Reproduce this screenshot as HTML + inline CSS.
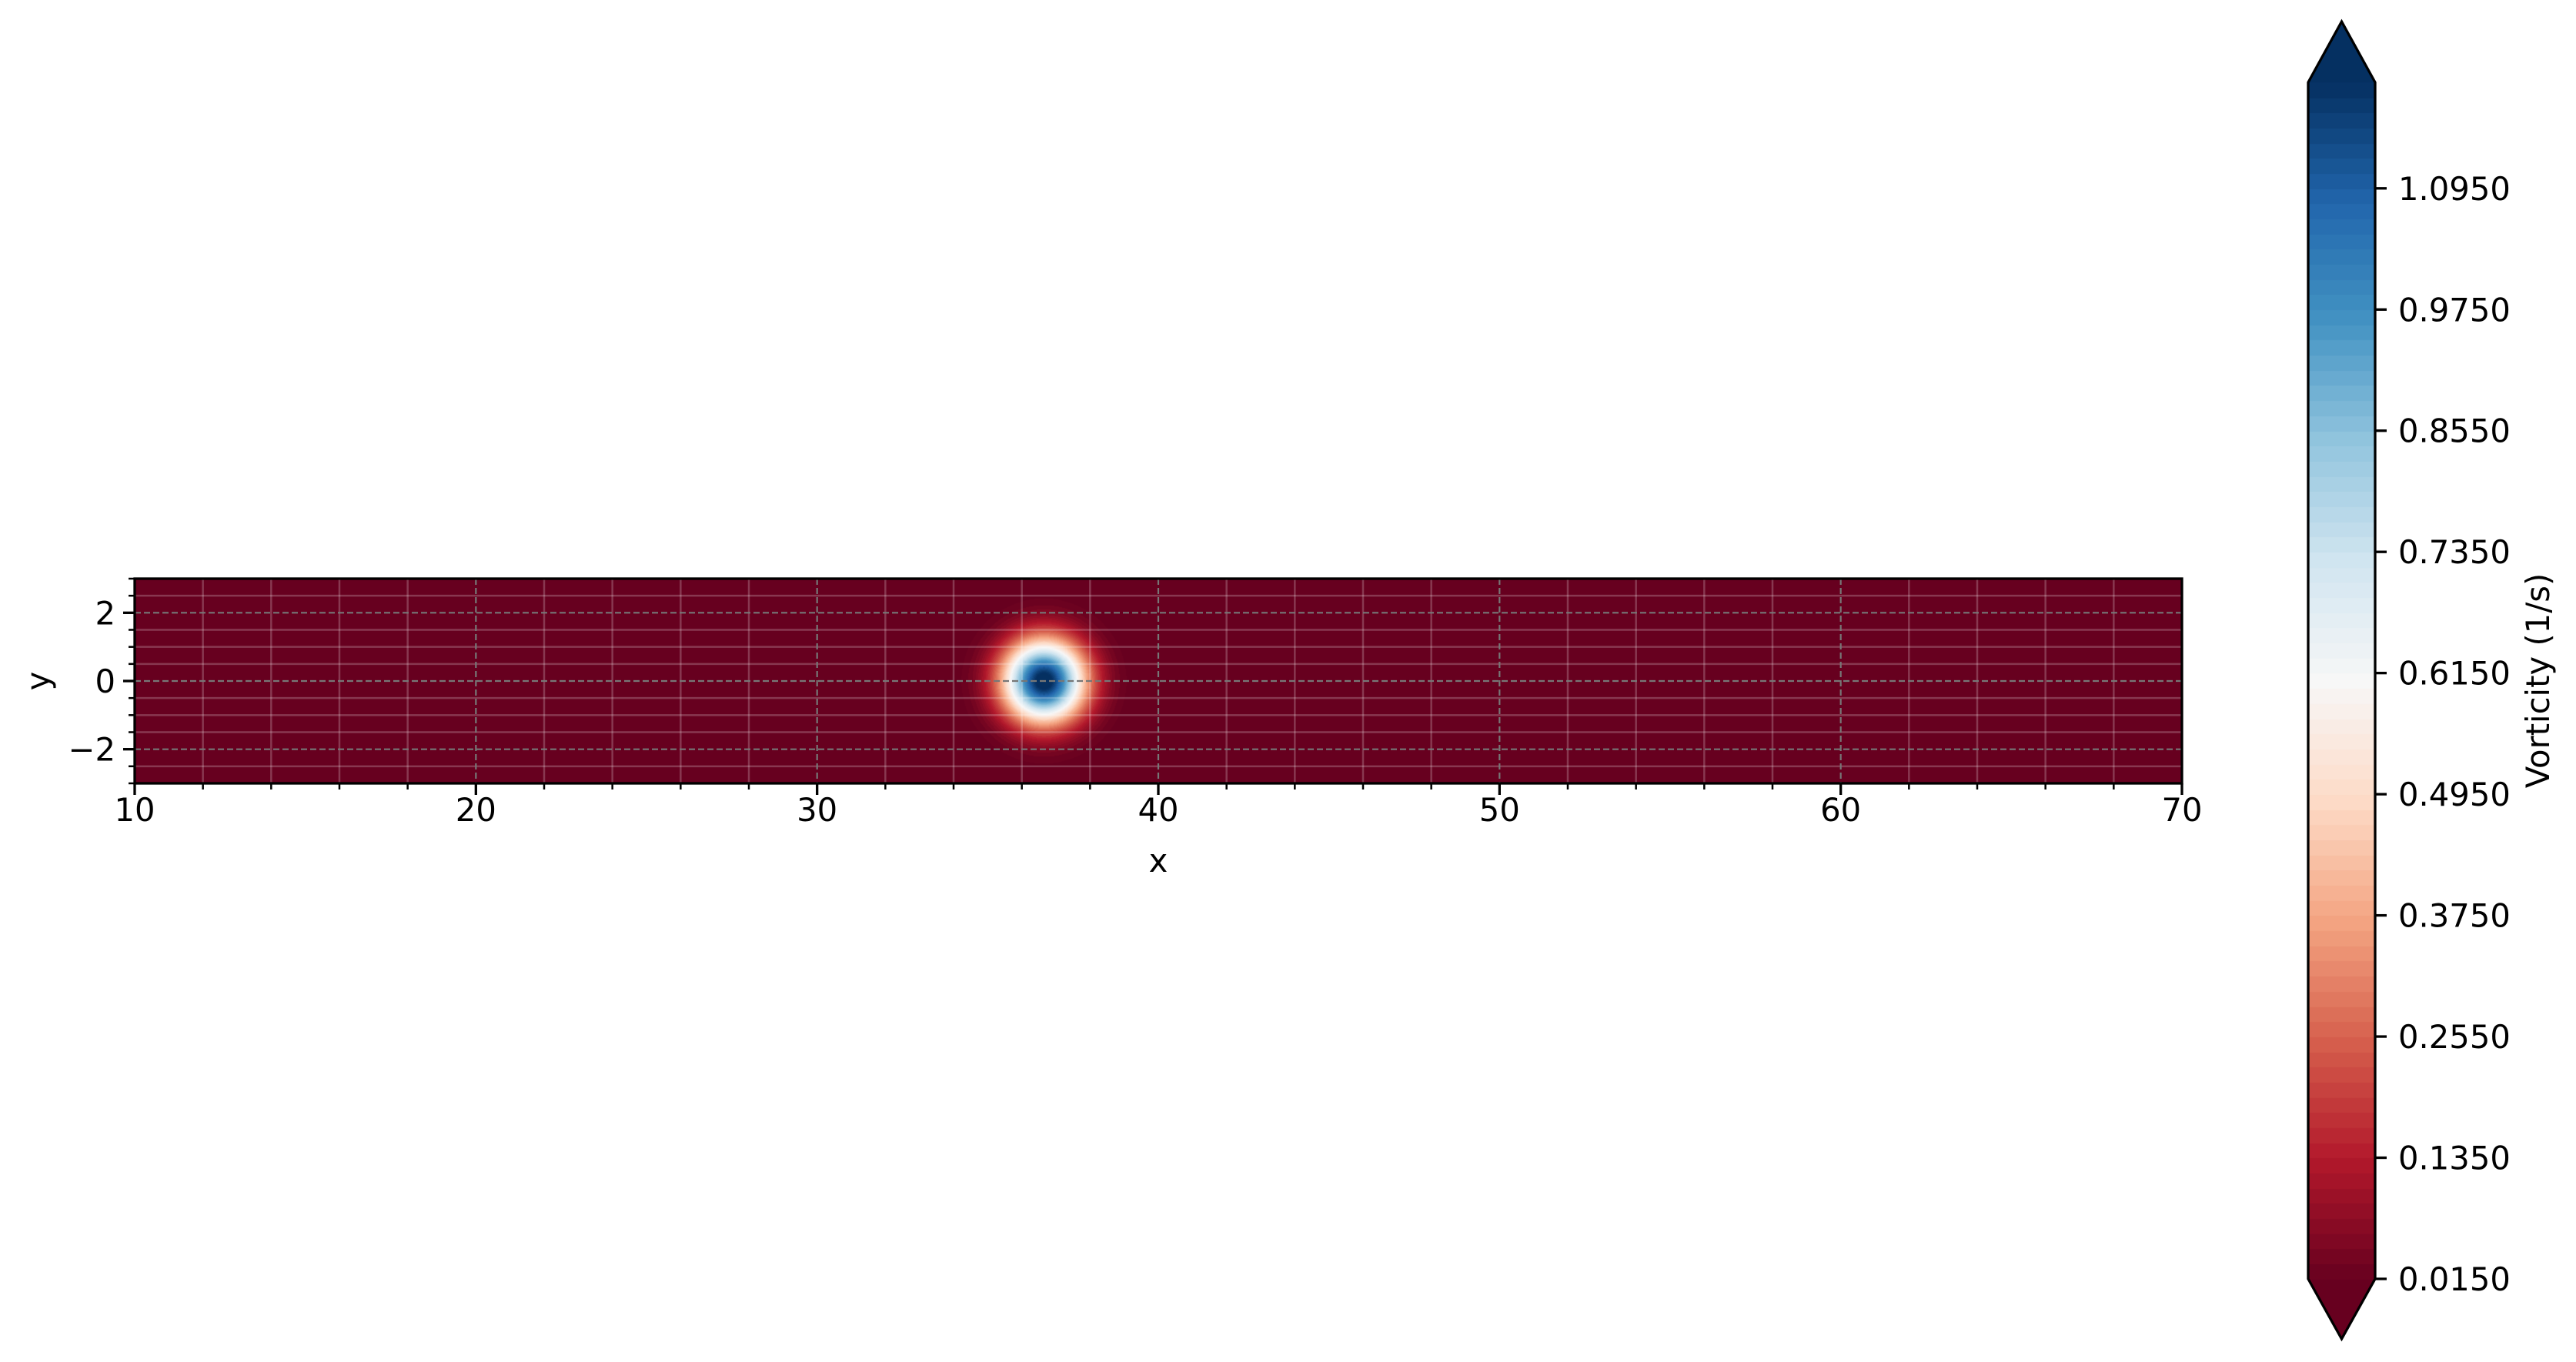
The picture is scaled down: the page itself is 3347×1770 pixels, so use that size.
<!DOCTYPE html>
<html><head><meta charset="utf-8">
<style>
html,body{margin:0;padding:0;background:#fff;}
#wrap{position:relative;width:3347px;height:1770px;overflow:hidden;}
canvas{position:absolute;}
svg{position:absolute;left:0;top:0;}
text{font-family:"DejaVu Sans","Liberation Sans",sans-serif;fill:#000;}
</style></head>
<body>
<div id="wrap">
<canvas id="heat"></canvas>
<canvas id="cbar"></canvas>
<svg id="ov" width="3347" height="1770"></svg>
</div>
<script>
// ---- data ----
const xTicks = [10,20,30,40,50,60,70];
const yTicks = [-2,0,2];
const cbarTicks = [0.0150,0.1350,0.2550,0.3750,0.4950,0.6150,0.7350,0.8550,0.9750,1.0950];
const vortexCenter = [36.65, 0.0];
const vortexAmplitude = [1.25];
const vortexWidth = [1.15];
const levelRange = [0.015, 1.2, 0.015]; // min, max, step
const rdbu = ["#67001f","#b2182b","#d6604d","#f4a582","#fddbc7","#f7f7f7","#d1e5f0","#92c5de","#4393c3","#2166ac","#053061"];

// ---- layout ----
const PL=175, PR=2835, PT=752, PB=1018;
const XMIN=10, XMAX=70, YMIN=-3, YMAX=3;
const sx = v => PL + (v-XMIN)/(XMAX-XMIN)*(PR-PL);
const sy = v => PB - (v-YMIN)/(YMAX-YMIN)*(PB-PT);
const CL=2999, CR=3086, CT=107, CB=1662, CTA=28, CBA=1740;
const VMIN=levelRange[0], VMAX=levelRange[1];
const cy = v => CB - (v-VMIN)/(VMAX-VMIN)*(CB-CT);

function hex(h){return [parseInt(h.slice(1,3),16),parseInt(h.slice(3,5),16),parseInt(h.slice(5,7),16)];}
const cm = rdbu.map(hex);
function cmap(t){t=Math.max(0,Math.min(1,t));const f=t*(cm.length-1);const i=Math.min(cm.length-2,Math.floor(f));const u=f-i;
 return cm[i].map((c,k)=>Math.round(c+(cm[i+1][k]-c)*u));}
const levels=[];for(let v=levelRange[0];v<=levelRange[1]+1e-9;v+=levelRange[2])levels.push(v);
const nb=levels.length-1;
function bandColor(val){
 if(val<levels[0]) return cmap(0);
 if(val>=levels[nb]) return cmap(1);
 let i=Math.floor((val-levels[0])/levelRange[2]); if(i>=nb)i=nb-1;
 return cmap((i+0.5)/nb);
}
function field(x,y){const dx=x-vortexCenter[0],dy=y-vortexCenter[1];return vortexAmplitude[0]*Math.exp(-(dx*dx+dy*dy)/(vortexWidth[0]*vortexWidth[0]));}

// heatmap
const hc=document.getElementById('heat');
hc.width=PR-PL;hc.height=PB-PT;hc.style.left=PL+'px';hc.style.top=PT+'px';
const hx=hc.getContext('2d');const img=hx.createImageData(hc.width,hc.height);
for(let j=0;j<hc.height;j++){const y=YMAX-(j+0.5)/hc.height*(YMAX-YMIN);
 for(let i=0;i<hc.width;i++){const x=XMIN+(i+0.5)/hc.width*(XMAX-XMIN);
  const c=bandColor(field(x,y));const p=(j*hc.width+i)*4;img.data[p]=c[0];img.data[p+1]=c[1];img.data[p+2]=c[2];img.data[p+3]=255;}}
hx.putImageData(img,0,0);

// colorbar
const cc=document.getElementById('cbar');
cc.width=CR-CL;cc.height=CBA-CTA;cc.style.left=CL+'px';cc.style.top=CTA+'px';
const cx=cc.getContext('2d');
cx.beginPath();cx.moveTo(0,CT-CTA);cx.lineTo((CR-CL)/2,0);cx.lineTo(CR-CL,CT-CTA);cx.lineTo(CR-CL,CB-CTA);cx.lineTo((CR-CL)/2,CBA-CTA);cx.lineTo(0,CB-CTA);cx.closePath();cx.clip();
let c1=cmap(1);cx.fillStyle=`rgb(${c1})`;cx.fillRect(0,0,CR-CL,CT-CTA+1);
let c0=cmap(0);cx.fillStyle=`rgb(${c0})`;cx.fillRect(0,CB-CTA-1,CR-CL,CBA-CB+2);
for(let i=0;i<nb;i++){const c=cmap((i+0.5)/nb);cx.fillStyle=`rgb(${c})`;
 const y1=cy(levels[i+1])-CTA,y0=cy(levels[i])-CTA;cx.fillRect(0,Math.floor(y1),CR-CL,Math.ceil(y0-y1)+1);}

// overlay
const NS='http://www.w3.org/2000/svg';const ov=document.getElementById('ov');
function el(tag,attrs,parent){const e=document.createElementNS(NS,tag);for(const k in attrs)e.setAttribute(k,attrs[k]);(parent||ov).appendChild(e);return e;}
const grid=el('g',{});


for(let v=12;v<70;v+=2){if(v%10===0)continue;const l=el('line',{x1:sx(v),x2:sx(v),y1:PT,y2:PB,stroke:'#fff','stroke-opacity':0.22,'stroke-width':2.5},grid);
 
 }
for(let v=-2.5;v<3;v+=0.5){if(Math.abs(v%2)<1e-9)continue;const l=el('line',{x1:PL,x2:PR,y1:sy(v),y2:sy(v),stroke:'#fff','stroke-opacity':0.22,'stroke-width':2.5},grid);
 
 }
xTicks.forEach(v=>{const l=el('line',{x1:sx(v),x2:sx(v),y1:PT,y2:PB,stroke:'#777','stroke-width':2.2,'stroke-dasharray':'8,4'},grid);
 
 });
yTicks.forEach(v=>{const l=el('line',{x1:PL,x2:PR,y1:sy(v),y2:sy(v),stroke:'#777','stroke-width':2.2,'stroke-dasharray':'8,4'},grid);
 
 });
const frame=el('rect',{x:PL,y:PT,width:PR-PL,height:PB-PT,fill:'none',stroke:'#000','stroke-width':3.3});


// ticks
for(let v=10;v<=70;v+=2){const maj=(v%10===0);const t=el('line',{x1:sx(v),x2:sx(v),y1:PB,y2:PB+(maj?15:8),stroke:'#000','stroke-width':maj?3.3:2.5});
 
 }
for(let v=-3;v<=3.001;v+=0.5){const maj=yTicks.some(y=>Math.abs(y-v)<1e-9);const t=el('line',{x1:PL,x2:PL-(maj?15:8),y1:sy(v),y2:sy(v),stroke:'#000','stroke-width':maj?3.3:2.5});
 
 }
xTicks.forEach(v=>{const t=el('text',{x:sx(v),y:1067,'font-size':41.7,'text-anchor':'middle'});t.textContent=String(v);
 
 });
yTicks.forEach(v=>{const t=el('text',{x:150,y:sy(v)+15,'font-size':41.7,'text-anchor':'end'});t.textContent=(v<0?'\u2212':'')+Math.abs(v);
 
 });
const xl=el('text',{x:(PL+PR)/2,y:1133,'font-size':41.7,'text-anchor':'middle'});xl.textContent='x';


const yl=el('text',{x:0,y:0,'font-size':41.7,'text-anchor':'middle',transform:`translate(64,${sy(0)}) rotate(-90)`});yl.textContent='y';


// colorbar outline + ticks
const mid=(CL+CR)/2;
const co=el('polygon',{points:`${CL},${CT} ${mid},${CTA} ${CR},${CT} ${CR},${CB} ${mid},${CBA} ${CL},${CB}`,fill:'none',stroke:'#000','stroke-width':3.3});


cbarTicks.forEach(v=>{const y=cy(v);const t=el('line',{x1:CR,x2:CR+15,y1:y,y2:y,stroke:'#000','stroke-width':3.3});
 
 
 const l=el('text',{x:3116,y:y+15,'font-size':41.7});l.textContent=v.toFixed(4);
 
 });
const cl=el('text',{x:0,y:0,'font-size':41.7,'text-anchor':'middle',transform:`translate(3312,${(CT+CB)/2}) rotate(-90)`});cl.textContent='Vorticity (1/s)';


</script>
</body></html>
